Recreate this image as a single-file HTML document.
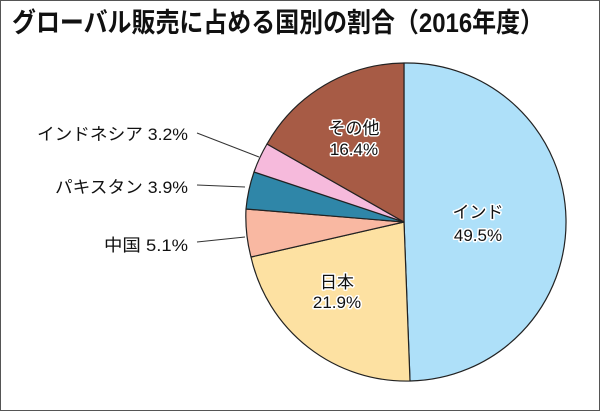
<!DOCTYPE html>
<html><head><meta charset="utf-8"><style>
html,body{margin:0;padding:0;background:#fff;}
svg{display:block;}
</style></head><body>
<svg width="600" height="411" xmlns="http://www.w3.org/2000/svg" font-family="'Liberation Sans','Noto Sans CJK JP',sans-serif">
<rect x="0.5" y="0.5" width="599" height="410" fill="#fff" stroke="#555" stroke-width="1"/>
<text x="12" y="32" font-size="27" font-weight="bold" fill="#111" textLength="532" lengthAdjust="spacingAndGlyphs">グローバル販売に占める国別の割合（2016年度）</text>
<g stroke="#222" stroke-width="1.2" stroke-linejoin="round">
<path d="M404,222 L404,63 A159,159 0 0 1 410,381 Z" fill="#aee0f9"/>
<path d="M404,222 L410,381 A159,159 0 0 1 251,257 Z" fill="#fde1a2"/>
<path d="M404,222 L251,257 A159,159 0 0 1 246,209 Z" fill="#f9b8a2"/>
<path d="M404,222 L246,209 A159,159 0 0 1 254,172 Z" fill="#2f86a8"/>
<path d="M404,222 L254,172 A159,159 0 0 1 267,144 Z" fill="#f6badc"/>
<path d="M404,222 L267,144 A159,159 0 0 1 404,63 Z" fill="#a75b45"/>
</g>
<g stroke="#333" stroke-width="1">
<line x1="197" y1="133" x2="259" y2="157"/>
<line x1="197" y1="185" x2="245" y2="187"/>
<line x1="197" y1="242" x2="245" y2="237"/>
</g>
<g font-size="17" fill="#111">
<text x="37" y="140" textLength="151" lengthAdjust="spacingAndGlyphs">インドネシア 3.2%</text>
<text x="55" y="193" textLength="133" lengthAdjust="spacingAndGlyphs">パキスタン 3.9%</text>
<text x="104" y="251" textLength="84" lengthAdjust="spacingAndGlyphs">中国 5.1%</text>
</g>
<g font-size="17" fill="#111" text-anchor="middle" stroke="#fff" stroke-width="3" paint-order="stroke" stroke-linejoin="round">
<text x="354" y="134">その他</text>
<text x="354" y="155">16.4%</text>
<text x="478" y="218">インド</text>
<text x="478" y="241">49.5%</text>
<text x="337" y="288">日本</text>
<text x="337" y="308">21.9%</text>
</g>
</svg>
</body></html>
